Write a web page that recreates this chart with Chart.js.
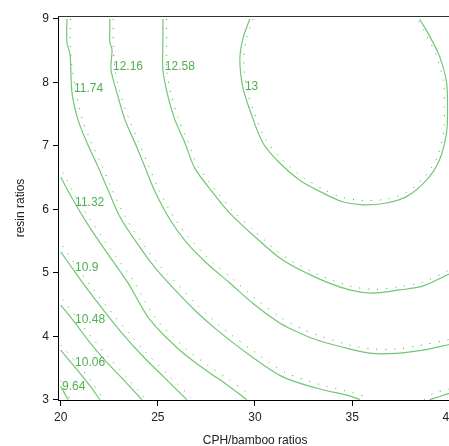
<!DOCTYPE html>
<html>
<head>
<meta charset="utf-8">
<script src="https://cdn.jsdelivr.net/npm/chart.js@4/dist/chart.umd.min.js"></script>
<style>
html, body { margin: 0; padding: 0; background: #fff; overflow: hidden; }
</style>
</head>
<body>
<canvas id="chart" width="460" height="446"></canvas>
<script>
// contour levels and where their labels sit (data units)
const levelNames = ['9.64', '10.06', '10.48', '10.9', '11.32', '11.74', '12.16', '12.58', '13'];
const labelX = [20.07, 20.74, 20.74, 20.74, 20.74, 20.68, 22.69, 25.36, 29.48];
const labelY = [3.20, 3.58, 4.26, 5.08, 6.10, 7.90, 8.25, 8.25, 7.93];

const xTicks = [20, 25, 30, 35, 40];
const yTicks = [3, 4, 5, 6, 7, 8, 9];

// solid contour lines [x, y]
const line964 = [[20.0, 3.21], [20.2, 3.1], [20.38, 3.0]];
const line1006 = [[20.0, 3.78], [20.74, 3.51], [21.40, 3.26], [22.02, 3.0]];
const line1048 = [[20.0, 4.49], [20.74, 4.21], [21.40, 3.94], [22.28, 3.62], [23.15, 3.34], [24.18, 3.0]];
const line1090 = [[20.0, 5.33], [20.74, 5.01], [21.40, 4.73], [22.28, 4.38], [23.15, 4.05], [24.18, 3.70],
  [25.36, 3.34], [26.49, 3.0]];
const line1132 = [[20.0, 6.51], [20.63, 6.15], [21.40, 5.76], [22.28, 5.36], [23.46, 4.84], [24.59, 4.26],
  [26.13, 3.78], [27.67, 3.42], [28.45, 3.26], [29.58, 3.0]];
const line1174 = [[20.32, 9.0], [20.32, 8.63], [20.48, 8.44], [20.58, 7.84], [20.89, 7.41], [21.35, 7.05],
  [21.92, 6.67], [22.43, 6.31], [23.05, 5.88], [23.92, 5.47], [24.85, 5.08], [25.88, 4.73], [26.90, 4.41],
  [28.04, 4.10], [29.73, 3.70], [31.43, 3.36], [33.18, 3.18], [34.87, 3.06], [35.39, 3.0]];
const line1174b = [[38.99, 3.0], [39.5, 3.05], [40.0, 3.10]];
const line1216 = [[22.53, 9.0], [22.53, 8.63], [22.64, 8.52], [22.59, 8.20], [22.89, 7.84], [23.31, 7.41],
  [23.82, 7.05], [24.33, 6.67], [24.85, 6.28], [25.62, 5.84], [26.49, 5.47], [27.52, 5.15], [28.70, 4.84],
  [29.88, 4.52], [31.27, 4.21], [32.30, 4.05], [33.18, 3.94], [34.87, 3.80], [36.0, 3.73], [37.29, 3.73],
  [38.63, 3.78], [40.0, 3.87]];
const line1258 = [[25.26, 9.0], [25.26, 8.63], [25.26, 8.20], [25.52, 7.78], [25.88, 7.41], [26.39, 7.05],
  [26.90, 6.65], [27.84, 6.26], [28.70, 5.94], [29.88, 5.60], [31.43, 5.20], [33.18, 4.92], [34.87, 4.73],
  [36.06, 4.68], [37.44, 4.73], [38.63, 4.79], [40.0, 4.98]];
const line13 = [[29.73, 9.0], [29.37, 8.68], [29.22, 8.36], [29.37, 7.93], [29.73, 7.57], [30.40, 7.05],
  [31.27, 6.73], [32.30, 6.46], [33.48, 6.26], [34.51, 6.12], [35.54, 6.07], [36.77, 6.10], [37.80, 6.20],
  [38.83, 6.46], [39.50, 6.78], [39.86, 7.21], [39.91, 7.57], [39.86, 8.00], [39.50, 8.41], [38.99, 8.73],
  [38.47, 9.0]];

// dotted companion lines
const dots964 = [[20.0, 3.3], [20.5, 3.0]];
const dots1006 = [[20.0, 3.86], [20.9, 3.55], [21.6, 3.28], [22.2, 3.0]];
const dots1048 = [[20.1, 4.58], [20.9, 4.26], [21.6, 3.98], [22.5, 3.66], [23.35, 3.37], [24.4, 3.0]];
const dots1090 = [[20.1, 5.42], [20.9, 5.06], [21.6, 4.77], [22.5, 4.42], [23.4, 4.09], [24.4, 3.74],
  [25.6, 3.37], [26.7, 3.04]];
const dots1132 = [[20.1, 6.58], [20.8, 6.19], [21.6, 5.80], [22.5, 5.40], [23.7, 4.89], [24.8, 4.32],
  [26.3, 3.84], [27.8, 3.49], [28.6, 3.33], [29.8, 3.06]];
const dots1174 = [[20.5, 9.0], [20.5, 8.5], [20.75, 7.9], [21.1, 7.43], [21.55, 7.07], [22.1, 6.70],
  [22.6, 6.34], [23.25, 5.92], [24.1, 5.51], [25.05, 5.13], [26.1, 4.79], [27.1, 4.47], [28.2, 4.16],
  [29.9, 3.77], [31.5, 3.44], [33.2, 3.25], [34.9, 3.12], [35.6, 3.06]];
const dots1174b = [[38.7, 3.0], [39.2, 3.10], [40.0, 3.17]];
const dots1216 = [[22.7, 9.0], [22.7, 8.6], [22.8, 8.2], [23.05, 7.85], [23.5, 7.43], [24.0, 7.07],
  [24.5, 6.70], [25.05, 6.31], [25.8, 5.88], [26.7, 5.52], [27.7, 5.20], [28.9, 4.89], [30.0, 4.60],
  [31.35, 4.29], [32.4, 4.12], [33.3, 4.01], [34.9, 3.86], [36.0, 3.80], [37.3, 3.80], [38.6, 3.86],
  [40.0, 3.95]];
const dots1258 = [[25.45, 9.0], [25.45, 8.6], [25.45, 8.2], [25.7, 7.8], [26.05, 7.43], [26.55, 7.07],
  [27.05, 6.68], [28.0, 6.29], [28.85, 5.98], [30.0, 5.65], [31.5, 5.26], [33.2, 4.98], [34.9, 4.79],
  [36.1, 4.74], [37.4, 4.78], [38.6, 4.85], [40.0, 5.04]];
const dots13 = [[29.9, 9.0], [29.55, 8.68], [29.42, 8.36], [29.55, 7.93], [29.9, 7.57], [30.55, 7.10],
  [31.4, 6.79], [32.4, 6.52], [33.5, 6.32], [34.5, 6.19], [35.5, 6.14], [36.75, 6.16], [37.75, 6.26],
  [38.7, 6.50], [39.35, 6.80], [39.7, 7.21], [39.75, 7.57], [39.7, 8.00], [39.35, 8.41], [38.85, 8.73],
  [38.35, 9.0]];

const solidLines = [line964, line1006, line1048, line1090, line1132, line1174, line1174b, line1216, line1258, line13];
const dottedLines = [dots964, dots1006, dots1048, dots1090, dots1132, dots1174, dots1174b, dots1216, dots1258, dots13];

const toPoints = arr => arr.map(p => ({x: p[0], y: p[1]}));

var datasets = [];
solidLines.forEach(l => datasets.push({
    data: toPoints(l),
    showLine: true,
    borderColor: 'rgb(115, 198, 115)',
    borderWidth: 1.2,
    pointRadius: 0,
    tension: 0.3
}));
dottedLines.forEach(l => datasets.push({
    data: toPoints(l),
    showLine: true,
    borderColor: 'rgb(60, 165, 60)',
    borderWidth: 1,
    borderDash: [1, 8],
    pointRadius: 0,
    tension: 0.3
}));

const fontFamily = '"Liberation Sans", Arial, sans-serif';

// contour value labels + top frame line
const contourLabels = {
    id: 'contourLabels',
    afterDatasetsDraw(chart) {
        const {ctx, chartArea, scales: {x, y}} = chart;
        ctx.save();
        ctx.strokeStyle = '#333';
        ctx.lineWidth = 1;
        ctx.beginPath();
        ctx.moveTo(chartArea.left, chartArea.top + 0.5);
        ctx.lineTo(chartArea.right, chartArea.top + 0.5);
        ctx.stroke();
        ctx.font = '12px ' + fontFamily;
        ctx.fillStyle = 'rgb(80, 175, 80)';
        ctx.textAlign = 'left';
        ctx.textBaseline = 'middle';
        levelNames.forEach((t, i) => {
            ctx.fillText(t, x.getPixelForValue(labelX[i]), y.getPixelForValue(labelY[i]));
        });
        ctx.restore();
    }
};

var ctx = document.getElementById('chart').getContext('2d');
var chart = new Chart(ctx, {
    type: 'scatter',
    data: { datasets: datasets },
    options: {
        responsive: false,
        animation: false,
        layout: { padding: { left: 0, top: 16, right: 7.6, bottom: 0 } },
        plugins: { legend: { display: false }, tooltip: { enabled: false } },
        scales: {
            x: {
                type: 'linear',
                min: 19.86,
                max: 40.15,
                afterBuildTicks: s => { s.ticks = xTicks.map(v => ({value: v})); },
                afterFit: s => { s.height = 46; },
                ticks: { color: '#222', font: { family: fontFamily, size: 12 }, padding: 4, maxRotation: 0 },
                grid: { display: true, drawOnChartArea: false, tickLength: 6, color: '#000' },
                border: { display: true, color: '#000', width: 1 },
                title: { display: true, text: 'CPH/bamboo ratios', color: '#222',
                         font: { family: fontFamily, size: 12 }, padding: { top: 0, bottom: -2 } }
            },
            y: {
                type: 'linear',
                min: 2.995,
                max: 9.047,
                afterBuildTicks: s => { s.ticks = yTicks.map(v => ({value: v})); },
                afterFit: s => { s.width = 58; },
                ticks: { color: '#222', font: { family: fontFamily, size: 12 }, padding: 4 },
                grid: { display: true, drawOnChartArea: false, tickLength: 5, color: '#000' },
                border: { display: true, color: '#000', width: 1 },
                title: { display: true, text: 'resin ratios', color: '#222',
                         font: { family: fontFamily, size: 12 }, padding: { top: 13, bottom: 0 } }
            }
        }
    },
    plugins: [contourLabels]
});
</script>
</body>
</html>
